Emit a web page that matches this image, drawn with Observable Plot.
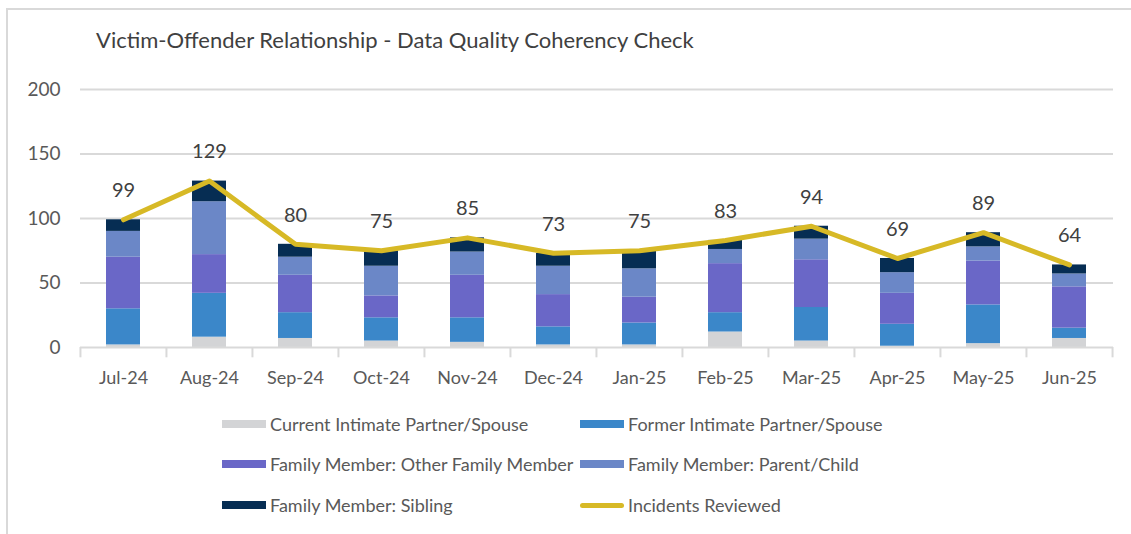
<!DOCTYPE html>
<html>
<head>
<meta charset="utf-8">
<script src="https://cdn.jsdelivr.net/npm/d3@7"></script>
<script src="https://cdn.jsdelivr.net/npm/@observablehq/plot@0.6"></script>
<style>
  html, body { margin: 0; padding: 0; background: #fff; }
  body { width: 1131px; height: 534px; position: relative; overflow: hidden; font-family: Lato, "Open Sans", sans-serif; }
  #frame { position: absolute; left: 6px; top: 8px; width: 1130px; height: 530px; border-left: 2px solid #d9d9d9; border-top: 2px solid #d9d9d9; }
  #title { position: absolute; left: 96px; top: 26px; font-size: 22px; color: #404040; white-space: nowrap; }
  #chart { position: absolute; left: 0; top: 0; }
  .lg { position: absolute; font-size: 18px; color: #595959; white-space: nowrap; display: flex; align-items: center; }
  .sw { width: 44px; height: 8px; margin-right: 4px; }
  .ln { width: 44px; height: 5px; border-radius: 3px; margin-right: 4px; }
</style>
</head>
<body>
<div id="frame"></div>
<div id="title">Victim-Offender Relationship - Data Quality Coherency Check</div>
<div id="chart"></div>
<div id="legend"></div>
<script>
const months = ["Jul-24","Aug-24","Sep-24","Oct-24","Nov-24","Dec-24","Jan-25","Feb-25","Mar-25","Apr-25","May-25","Jun-25"];
const categories = ["Current Intimate Partner/Spouse","Former Intimate Partner/Spouse","Family Member: Other Family Member","Family Member: Parent/Child","Family Member: Sibling"];
const currentPartner = [2, 8, 7, 5, 4, 2, 2, 12, 5, 1, 3, 7];
const formerPartner  = [28, 34, 20, 18, 19, 14, 17, 15, 26, 17, 30, 8];
const otherFamily    = [40, 30, 29, 17, 33, 25, 20, 38, 37, 24, 34, 32];
const parentChild    = [20, 41, 14, 23, 18, 22, 22, 11, 16, 16, 11, 10];
const sibling        = [9, 16, 10, 12, 11, 10, 14, 7, 10, 11, 11, 7];
const incidentsReviewed = [99, 129, 80, 75, 85, 73, 75, 83, 94, 69, 89, 64];
const yTicks = [0, 50, 100, 150, 200];
const colors = ["#d3d4d6", "#3b87c9", "#6a67c7", "#6b87c7", "#062d53"];
const lineColor = "#d7b926";

const seriesValues = [currentPartner, formerPartner, otherFamily, parentChild, sibling];
const long = [];
categories.forEach((c, ci) => months.forEach((m, mi) => long.push({month: m, cat: c, value: seriesValues[ci][mi]})));
const totals = months.map((m, i) => ({month: m, total: incidentsReviewed[i]}));

const W = 1131, H = 400, ML = 80, MR = 18;
const step = (W - ML - MR) / months.length;

const chart = Plot.plot({
  width: W, height: H,
  marginLeft: ML, marginRight: MR, marginTop: 89, marginBottom: 53,
  style: {fontFamily: "Lato, 'Open Sans', sans-serif", background: "transparent", overflow: "visible"},
  x: {domain: months, paddingInner: 0.6, paddingOuter: 0.3, label: null},
  y: {domain: [0, 200], label: null},
  color: {domain: categories, range: colors},
  marks: [
    Plot.ruleY(yTicks.filter(d => d > 0), {stroke: "#d9d9d9", strokeWidth: 2}),
    Plot.axisY({ticks: yTicks, tickSize: 0, tickPadding: 20, fontSize: 19, fill: "#595959", label: null}),
    Plot.axisX({tickSize: 0, tickPadding: 24, fontSize: 18, fill: "#595959", label: null}),
    Plot.barY(long, {x: "month", y: "value", fill: "cat", order: categories}),
    Plot.ruleY([0], {stroke: "#d9d9d9", strokeWidth: 2}),
    Plot.ruleX(months, {x: d => d, dx: -step / 2, y1: 0, y2: -8, stroke: "#d9d9d9", strokeWidth: 2}),
    Plot.ruleX(months.slice(-1), {x: d => d, dx: step / 2, y1: 0, y2: -8, stroke: "#d9d9d9", strokeWidth: 2}),
    Plot.lineY(totals, {x: "month", y: "total", stroke: lineColor, strokeWidth: 5, strokeLinejoin: "round"}),
    Plot.text(totals, {x: "month", y: "total", text: d => String(d.total), dy: -29, fontSize: 20, fill: "#404040"})
  ]
});
document.getElementById("chart").appendChild(chart);

const legendItems = [
  {label: categories[0], color: colors[0], type: "sw", left: 222, top: 424},
  {label: categories[1], color: colors[1], type: "sw", left: 580, top: 424},
  {label: categories[2], color: colors[2], type: "sw", left: 222, top: 464},
  {label: categories[3], color: colors[3], type: "sw", left: 580, top: 464},
  {label: categories[4], color: colors[4], type: "sw", left: 222, top: 505},
  {label: "Incidents Reviewed", color: lineColor, type: "ln", left: 580, top: 505}
];
const lg = document.getElementById("legend");
legendItems.forEach(it => {
  const d = document.createElement("div");
  d.className = "lg";
  d.style.left = it.left + "px";
  d.style.top = (it.top - 12) + "px";
  d.style.height = "24px";
  const s = document.createElement("span");
  s.className = it.type;
  s.style.background = it.color;
  d.appendChild(s);
  const t = document.createElement("span");
  t.textContent = it.label;
  d.appendChild(t);
  lg.appendChild(d);
});
</script>
</body>
</html>
